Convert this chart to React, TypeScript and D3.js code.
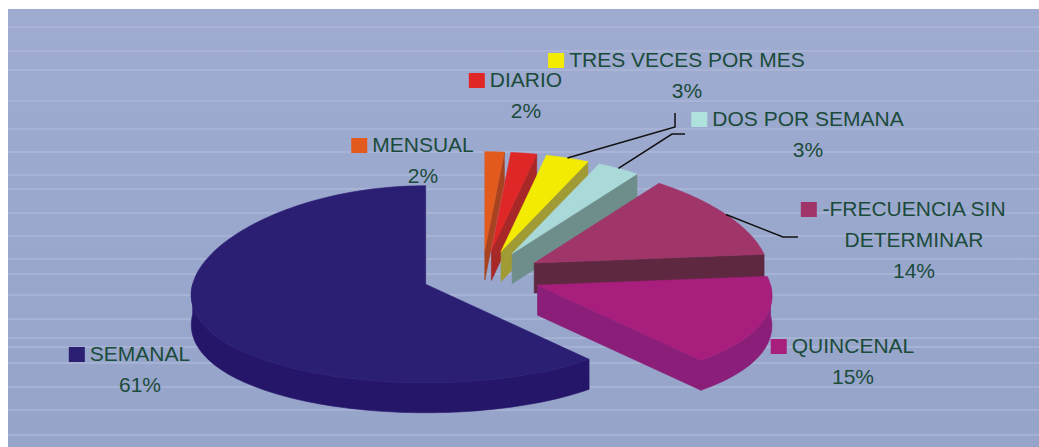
import React from "react";
import * as d3 from "d3";

// ---------- data ----------
const categories = [
  "MENSUAL",
  "DIARIO",
  "TRES VECES POR MES",
  "DOS POR SEMANA",
  "-FRECUENCIA SIN DETERMINAR",
  "QUINCENAL",
  "SEMANAL",
];
// shares (%); labels show them rounded
const values = [1.5, 2.0, 3.3, 3.2, 13.6, 15.2, 61.2];
const labelLines = [
  ["MENSUAL"],
  ["DIARIO"],
  ["TRES VECES POR MES"],
  ["DOS POR SEMANA"],
  ["-FRECUENCIA SIN", "DETERMINAR"],
  ["QUINCENAL"],
  ["SEMANAL"],
];
const topColors = ["#E35A1F", "#DF2727", "#F3EB02", "#A9D9D8", "#A0356A", "#A81E7C", "#2B1F74"];
const sideColors = ["#A8421F", "#A82828", "#A09B35", "#6E8E8B", "#5E2841", "#8A1E78", "#26166A"];
const keyColors = ["#E35A1F", "#DF2727", "#F3EB02", "#B0E2DD", "#A0356A", "#A81E7C", "#2B1F74"];
const backgroundLines = [27, 51, 70, 101, 129, 152, 175, 189, 213, 236, 259, 274, 295, 319, 338, 347, 363, 387, 410, 435];

// ---------- layout ----------
const W = 1039;
const H = 447;
const plot = { x: 8, y: 9 };
const pie3d = { cx: 482, cy: 275.5, rx: 233, ry: 98.5, depth: 30, persp: 0.11, explode: 60 };
const FONT = "'Liberation Sans', Arial, Helvetica, sans-serif";
const FS = 21;
const LINE_H = 31;
const TEXT_COLOR = "#1B4B3B";
// label anchor: text centre x, first baseline y, optional leader elbow/end
const labelLayout: { x: number; y: number; leader?: [number, number][] }[] = [
  { x: 423, y: 152 },
  { x: 526, y: 87 },
  { x: 687, y: 67, leader: [[675, 127], [675, 113]] },
  { x: 808, y: 126, leader: [[672, 134], [685, 134]] },
  { x: 914, y: 216, leader: [[783, 237], [798, 237]] },
  { x: 853, y: 353 },
  { x: 140, y: 361 },
];

let ctx: CanvasRenderingContext2D | null = null;
function measure(t: string) {
  if (!ctx) {
    const c = document.createElement("canvas");
    ctx = c.getContext("2d");
  }
  if (!ctx) return t.length * FS * 0.6;
  ctx.font = `${FS}px 'Liberation Sans', Arial, sans-serif`;
  return ctx.measureText(t).width;
}

type P = [number, number];

export default function App() {
  const { cx, cy, rx, ry, depth, persp, explode } = pie3d;
  const k = ry / rx;
  const arcs = d3.pie<number>().sort(null).value((d) => d)(values);

  const pt = (c: P, a: number, dz = 0): P => [
    c[0] + rx * Math.sin(a) * (1 - persp * Math.cos(a)),
    c[1] - ry * Math.cos(a) + dz,
  ];
  const samples = (a0: number, a1: number) => {
    const n = Math.max(2, Math.ceil(((a1 - a0) * 180) / Math.PI / 1.5));
    return d3.range(n + 1).map((i) => a0 + ((a1 - a0) * i) / n);
  };
  const line = d3.line<P>();

  const slices = arcs.map((a, i) => {
    const mid = (a.startAngle + a.endAngle) / 2;
    const c: P = [cx + explode * Math.sin(mid), cy - explode * k * Math.cos(mid)];
    return { i, a0: a.startAngle, a1: a.endAngle, mid, c };
  });
  const order = [...slices].sort((p, q) => Math.cos(q.mid) - Math.cos(p.mid));

  const shapes: JSX.Element[] = [];
  order.forEach((s) => {
    const { i, a0, a1, c } = s;
    const side = sideColors[i];
    // curved outer wall (front half)
    const f0 = Math.max(a0, Math.PI / 2);
    const f1 = Math.min(a1, (3 * Math.PI) / 2);
    if (f1 > f0) {
      const ang = samples(f0, f1);
      const pts: P[] = [...ang.map((a) => pt(c, a)), ...ang.slice().reverse().map((a) => pt(c, a, depth))];
      shapes.push(<path key={`ow${i}`} d={line(pts)! + "Z"} fill={side} stroke={side} strokeWidth={0.6} />);
    }
    // radial walls
    const cb: P = [c[0], c[1] + depth];
    if (Math.sin(a0) < -1e-6) {
      const pts: P[] = [c, pt(c, a0), pt(c, a0, depth), cb];
      shapes.push(<path key={`r0${i}`} d={line(pts)! + "Z"} fill={side} stroke={side} strokeWidth={0.6} />);
    }
    if (Math.sin(a1) > 1e-6) {
      const pts: P[] = [c, pt(c, a1), pt(c, a1, depth), cb];
      shapes.push(<path key={`r1${i}`} d={line(pts)! + "Z"} fill={side} stroke={side} strokeWidth={0.6} />);
    }
    // top face
    const topPts: P[] = [c, ...samples(a0, a1).map((a) => pt(c, a))];
    shapes.push(
      <path key={`t${i}`} d={line(topPts)! + "Z"} fill={topColors[i]} stroke={topColors[i]} strokeWidth={0.6} />
    );
  });

  const labels = slices.map((s) => {
    const i = s.i;
    const L = labelLayout[i];
    const lines = labelLines[i];
    const w0 = measure(lines[0]);
    const keyX = L.x - w0 / 2 - 21;
    const leader = L.leader ? [pt(s.c, s.mid), ...L.leader] as P[] : null;
    return (
      <g key={`l${i}`}>
        {leader && <path d={line(leader)!} fill="none" stroke="#111" strokeWidth={1.5} />}
        <rect x={keyX} y={L.y - 14} width={16} height={15} fill={keyColors[i]} />
        {lines.map((t, j) => (
          <text key={j} x={L.x} y={L.y + j * LINE_H} textAnchor="middle" fontFamily={FONT} fontSize={FS} fill={TEXT_COLOR}>
            {t}
          </text>
        ))}
        <text x={L.x} y={L.y + lines.length * LINE_H} textAnchor="middle" fontFamily={FONT} fontSize={FS} fill={TEXT_COLOR}>
          {`${Math.round(values[i])}%`}
        </text>
      </g>
    );
  });

  return (
    <svg width={W} height={H} style={{ position: "absolute", left: 0, top: 0, display: "block" }}>
      <defs>
        <linearGradient id="bg" x1="0" y1="0" x2="0" y2="1">
          <stop offset="0" stopColor="#9FABD0" />
          <stop offset="1" stopColor="#96A4CA" />
        </linearGradient>
      </defs>
      <rect x={0} y={0} width={W} height={H} fill="#fff" />
      <rect x={plot.x} y={plot.y} width={W - plot.x} height={H - plot.y} fill="url(#bg)" />
      {backgroundLines.map((y, j) => (
        <line key={j} x1={plot.x} x2={W} y1={y} y2={y} stroke="#B3BDDC" strokeWidth={1.2} />
      ))}
      {shapes}
      {labels}
    </svg>
  );
}
